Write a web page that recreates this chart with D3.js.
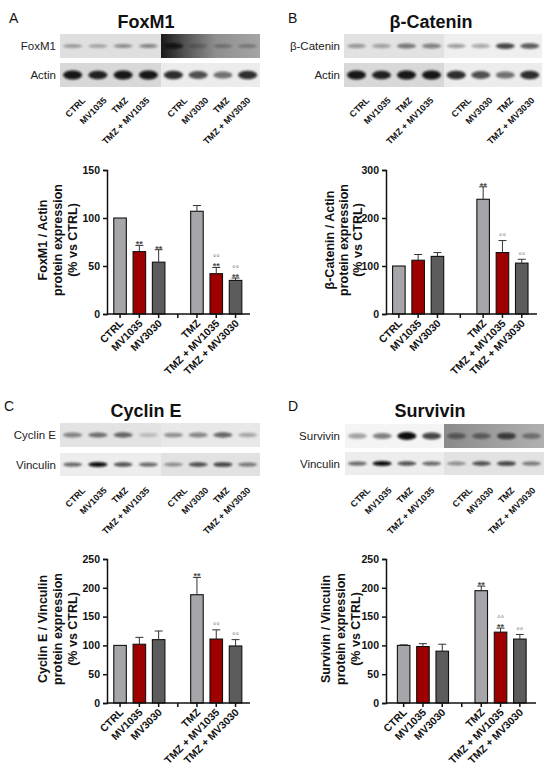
<!DOCTYPE html>
<html><head><meta charset="utf-8">
<script src="https://cdn.jsdelivr.net/npm/d3@7"></script>
<style>body{margin:0;background:#fff} text{font-family:Arial,"Liberation Sans",sans-serif}</style>
</head><body>
<svg id="c" width="550" height="779"></svg>
<script>
// ---------- data ----------
const groups = ["CTRL","MV1035","MV3030","TMZ","TMZ + MV1035","TMZ + MV3030"];
const laneLabels = ["CTRL","MV1035","TMZ","TMZ + MV1035","CTRL","MV3030","TMZ","TMZ + MV3030"];

const foxm1Values = [100,65,54,107,42,35];
const foxm1Errors = [0,6.5,13,6,6.5,2.5];
const foxm1Stars  = [0,1,1,0,1,1];
const foxm1Circs  = [0,0,0,0,1,1];
const foxm1Ticks  = [0,50,100,150];

const catValues = [100,112,120,239,128,106];
const catErrors = [0,12,8,26,25,8];
const catStars  = [0,0,0,1,0,0];
const catCircs  = [0,0,0,0,1,1];
const catTicks  = [0,100,200,300];

const cycValues = [100,102,110,188,111,99];
const cycErrors = [0,12,15,30,16,11];
const cycStars  = [0,0,0,1,0,0];
const cycCircs  = [0,0,0,0,1,1];
const cycTicks  = [0,50,100,150,200,250];

const surValues = [100,98,90,195,123,111];
const surErrors = [1,5,12,8,7,8];
const surStars  = [0,0,0,1,1,0];
const surCircs  = [0,0,0,0,1,1];
const surTicks  = [0,50,100,150,200,250];

// blot band intensities (0..1) per lane
const foxm1Bands   = [0.35,0.3,0.4,0.45,0.95,0.25,0.3,0.3];
const actinBands   = [0.95,0.9,0.95,0.95,0.85,0.7,0.55,0.85];
const catBands     = [0.35,0.3,0.5,0.45,0.35,0.3,0.75,0.65];
const cycBands     = [0.45,0.55,0.6,0.2,0.4,0.45,0.6,0.3];
const vinBands     = [0.6,1,0.7,0.6,0.4,0.7,0.75,0.5];
const surBands     = [0.35,0.5,1,0.75,0.45,0.45,0.7,0.4];

const barColors = ["#a5a5aa","#9e0000","#5c5c5c","#a5a5aa","#9e0000","#5c5c5c"];

// ---------- layout ----------
const panels = [
  {letter:"A", lx:9, ly:23, title:"FoxM1", tx:146, ty:28,
   bx:60, bw:200, split:161, by:34, labRight:56, laneY:101,
   rows:[{name:"FoxM1", y:34, h:24, bands:foxm1Bands, bh:4, bgL:"#dfdfdf", bgR:"dark"},
         {name:"Actin", y:63, h:24, bands:actinBands, bh:7, bgL:"#d8d8d8", bgR:"#ececec"}],
   vals:foxm1Values, errs:foxm1Errors, stars:foxm1Stars, circs:foxm1Circs, ticks:foxm1Ticks,
   ax:107, axEnd:250, top:170, bottom:314, g1:110.4, gap:19, ylx:43, yls:15,
   ylab:["FoxM1 / Actin","protein expression","(% vs CTRL)"]},
  {letter:"B", lx:288, ly:23, title:"β-Catenin", tx:431, ty:28,
   bx:344, bw:198, split:444, by:34, labRight:340, laneY:101,
   rows:[{name:"β-Catenin", y:34, h:24, bands:catBands, bh:5, bgL:"#e2e2e2", bgR:"#efefef"},
         {name:"Actin", y:63, h:24, bands:actinBands, bh:7, bgL:"#d8d8d8", bgR:"#ececec"}],
   vals:catValues, errs:catErrors, stars:catStars, circs:catCircs, ticks:catTicks,
   ax:386, axEnd:537, top:170, bottom:314, g1:389.2, gap:26.4, ylx:330, yls:14,
   ylab:["β-Catenin / Actin","protein expression","(% vs CTRL)"]},
  {letter:"C", lx:4, ly:411, title:"Cyclin E", tx:146, ty:417,
   bx:60, bw:200, split:161, by:423, labRight:56, laneY:491,
   rows:[{name:"Cyclin E", y:423, h:24, bands:cycBands, bh:5, bgL:"#e3e3e3", bgR:"#e8e8e8"},
         {name:"Vinculin", y:453, h:23, bands:vinBands, bh:4, bgL:"#ededed", bgR:"#e2e2e2"}],
   vals:cycValues, errs:cycErrors, stars:cycStars, circs:cycCircs, ticks:cycTicks,
   ax:107, axEnd:250, top:559, bottom:703, g1:110.4, gap:19, ylx:43, yls:15,
   ylab:["Cyclin E / Vinculin","protein expression","(% vs CTRL)"]},
  {letter:"D", lx:288, ly:411, title:"Survivin", tx:430, ty:417,
   bx:345, bw:199, split:444, by:424, labRight:340, laneY:491,
   rows:[{name:"Survivin", y:424, h:24, bands:surBands, bh:6, bgL:"#f4f4f4", bgR:"dark2"},
         {name:"Vinculin", y:452, h:23, bands:vinBands, bh:4, bgL:"#ededed", bgR:"#e2e2e2"}],
   vals:surValues, errs:surErrors, stars:surStars, circs:surCircs, ticks:surTicks,
   ax:386, axEnd:536, top:559, bottom:703, g1:394, gap:19.7, ylx:326, yls:15,
   ylab:["Survivin / Vinculin","protein expression","(% vs CTRL)"]}
];

const svg = d3.select("#c");
const defs = svg.append("defs");
defs.append("filter").attr("id","blur").attr("x","-50%").attr("y","-100%").attr("width","200%").attr("height","300%")
  .append("feGaussianBlur").attr("stdDeviation",1.1);
const g1 = defs.append("linearGradient").attr("id","dark");
g1.append("stop").attr("offset","0%").attr("stop-color","#1a1a1a");
g1.append("stop").attr("offset","25%").attr("stop-color","#555");
g1.append("stop").attr("offset","55%").attr("stop-color","#8f8f8f");
g1.append("stop").attr("offset","100%").attr("stop-color","#a5a5a5");
const g2 = defs.append("linearGradient").attr("id","dark2");
g2.append("stop").attr("offset","0%").attr("stop-color","#8a8a8a");
g2.append("stop").attr("offset","50%").attr("stop-color","#9e9e9e");
g2.append("stop").attr("offset","100%").attr("stop-color","#b0b0b0");

panels.forEach(p => {
  const g = svg.append("g");
  g.append("text").attr("x",p.lx).attr("y",p.ly).attr("font-size",14).attr("fill","#111").text(p.letter);
  g.append("text").attr("x",p.tx).attr("y",p.ty).attr("text-anchor","middle").attr("font-size",18)
    .attr("font-weight","bold").attr("fill","#111").text(p.title);

  // blot lanes
  const laneL = d3.scaleBand().domain(d3.range(4)).range([p.bx, p.split]);
  const laneR = d3.scaleBand().domain(d3.range(4,8)).range([p.split, p.bx+p.bw]);
  const lane = i => i<4 ? laneL(i)+laneL.bandwidth()/2 : laneR(i)+laneR.bandwidth()/2;

  p.rows.forEach(r => {
    g.append("rect").attr("x",p.bx).attr("y",r.y).attr("width",p.split-p.bx).attr("height",r.h).attr("fill",r.bgL);
    g.append("rect").attr("x",p.split).attr("y",r.y).attr("width",p.bx+p.bw-p.split).attr("height",r.h)
      .attr("fill", r.bgR.startsWith("dark") ? `url(#${r.bgR})` : r.bgR);
    g.selectAll(null).data(r.bands).enter().append("ellipse")
      .attr("cx",(d,i)=>lane(i)).attr("cy",r.y+r.h/2)
      .attr("rx",9.5).attr("ry",(d)=>r.bh/2*(0.7+0.6*d))
      .attr("fill","#0a0a0a").attr("opacity",d=>d).attr("filter","url(#blur)");
    g.append("text").attr("x",p.labRight).attr("y",r.y+r.h/2+4).attr("text-anchor","end")
      .attr("font-size",11.5).attr("fill","#222").text(r.name);
  });

  // lane labels
  const labL = d3.scalePoint().domain(d3.range(4)).range([p.bx+23, p.bx+87]);
  const labR = d3.scalePoint().domain(d3.range(4,8)).range([p.bx+125, p.bx+188]);
  g.selectAll(null).data(laneLabels).enter().append("text")
    .attr("transform",(d,i)=>`translate(${(i<4?labL(i):labR(i))+3},${p.laneY}) rotate(-45)`)
    .attr("text-anchor","end").attr("font-size",9).attr("font-weight","bold").attr("fill","#111").text(d=>d);

  // bar chart
  const y = d3.scaleLinear().domain([0, d3.max(p.ticks)]).range([p.bottom, p.top]);
  const slot = 19.3;
  const outer = d3.scaleBand().domain([0,1]).range([p.g1, p.g1 + 6*slot + p.gap])
    .paddingInner(p.gap/(3*slot+p.gap)).paddingOuter(0);
  const inner = d3.scaleBand().domain([0,1,2]).range([0, outer.bandwidth()]).paddingInner(0.35).paddingOuter(0.175);
  const cx = i => outer(Math.floor(i/3)) + inner(i%3) + inner.bandwidth()/2;
  const bw = inner.bandwidth();
  const pts = p.vals.map((v,i) => ({v, e:p.errs[i], s:p.stars[i], c:p.circs[i], i}));

  g.selectAll(null).data(pts).enter().append("rect")
    .attr("x",d=>cx(d.i)-bw/2).attr("y",d=>y(d.v)).attr("width",bw).attr("height",d=>y(0)-y(d.v))
    .attr("fill",d=>barColors[d.i]).attr("stroke","#111").attr("stroke-width",1.1);
  // error bars (upper only)
  g.selectAll(null).data(pts.filter(d=>d.e>0.5)).enter().append("path")
    .attr("d",d=>`M${cx(d.i)},${y(d.v)}V${y(d.v+d.e)}M${cx(d.i)-4},${y(d.v+d.e)}H${cx(d.i)+4}`)
    .attr("stroke","#333").attr("stroke-width",1).attr("fill","none");
  // significance marks
  pts.forEach(d => {
    let yy = y(d.v + d.e) - 2;
    if (d.s) {
      g.append("text").attr("x",cx(d.i)).attr("y",yy+4).attr("text-anchor","middle")
        .attr("font-size",9).attr("font-weight","bold").attr("fill","#505050").text("**");
      yy -= 6;
    }
    if (d.c) {
      g.append("text").attr("x",cx(d.i)).attr("y",yy+1.5).attr("text-anchor","middle")
        .attr("font-size",9).attr("fill","#7a7a7a").text("°°");
    }
  });

  // axes
  const yAxis = d3.axisLeft(y).tickValues(p.ticks).tickSize(4).tickPadding(3);
  const ya = g.append("g").attr("transform",`translate(${p.ax},0)`).call(yAxis);
  ya.select(".domain").attr("stroke","#111").attr("stroke-width",1.5);
  ya.selectAll(".tick line").attr("stroke","#111").attr("stroke-width",1.5);
  ya.selectAll(".tick text").attr("font-size",10.5).attr("font-weight","bold").attr("fill","#111")
    .attr("font-family","Arial, Liberation Sans, sans-serif");

  const tickPos = [0,1,2].map(cx).concat([(outer(0)+outer.bandwidth()+outer(1))/2]).concat([3,4,5].map(cx));
  g.append("line").attr("x1",p.ax).attr("x2",p.axEnd).attr("y1",p.bottom).attr("y2",p.bottom)
    .attr("stroke","#111").attr("stroke-width",1.5);
  g.selectAll(null).data(tickPos).enter().append("line")
    .attr("x1",d=>d).attr("x2",d=>d).attr("y1",p.bottom).attr("y2",p.bottom+4)
    .attr("stroke","#111").attr("stroke-width",1.5);
  g.selectAll(null).data(groups).enter().append("text")
    .attr("transform",(d,i)=>`translate(${cx(i)+4},${p.bottom+10}) rotate(-45)`)
    .attr("text-anchor","end").attr("font-size",10.5).attr("font-weight","bold").attr("fill","#111").text(d=>d);

  // y labels
  const mid = (p.top+p.bottom)/2;
  p.ylab.forEach((t,k) => {
    g.append("text").attr("transform",`translate(${p.ylx + k*p.yls},${mid-2}) rotate(-90)`)
      .attr("text-anchor","middle").attr("dominant-baseline","central")
      .attr("font-size",12.5).attr("font-weight","bold").attr("fill","#111").text(t);
  });
});
</script>
</body></html>
